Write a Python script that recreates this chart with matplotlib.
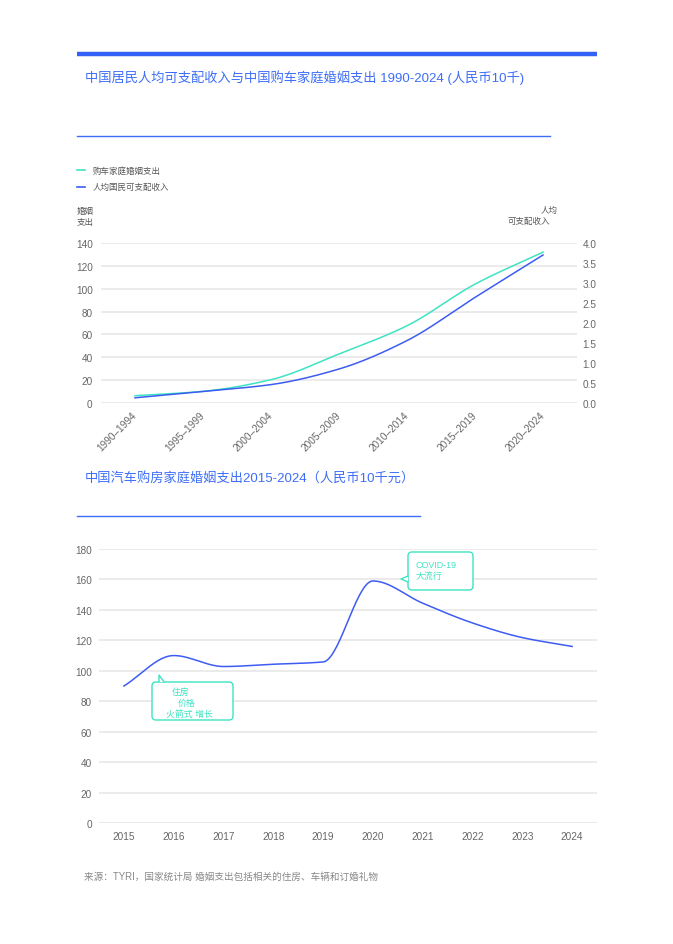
import numpy as np
import matplotlib
matplotlib.use("Agg")
import matplotlib.pyplot as plt
from matplotlib.patches import FancyBboxPatch, Polygon
from matplotlib.lines import Line2D
from matplotlib.transforms import Affine2D

plt.rcParams['font.family'] = ['Liberation Sans', 'Noto Sans CJK SC']

# ---------------------- DATA ----------------------
periods = ['1990–1994', '1995–1999', '2000–2004', '2005–2009',
           '2010–2014', '2015–2019', '2020–2024']
marriage_spend = [6.4, 10.2, 20.4, 42.9, 67.6, 104, 132]      # left axis
income = [0.13, 0.29, 0.46, 0.85, 1.56, 2.64, 3.7]            # right axis

years = [2015, 2016, 2017, 2018, 2019, 2020, 2021, 2022, 2023, 2024]
car_house_spend = [90, 110, 102.8, 104.3, 105.8, 159, 144.4, 131.4, 121.8, 116]

# ---------------------- STYLE ----------------------
W, H = 673, 945
TEAL = '#3ee3c3'
BLUE = '#3d5cf2'
TITLE_BLUE = '#3d6ef7'
GRID = '#e8e8e8'
TICK = '#666666'


def smooth(y, n=300):
    """monotone cubic curve through the points (x = 0..n-1)"""
    y = np.asarray(y, float)
    d = np.diff(y)
    m = np.zeros_like(y)
    m[0], m[-1] = d[0], d[-1]
    for i in range(1, len(y) - 1):
        if d[i - 1] * d[i] > 0:
            m[i] = 2 / (1 / d[i - 1] + 1 / d[i])
    xs = np.linspace(0, len(y) - 1, n)
    i = np.clip(np.floor(xs).astype(int), 0, len(y) - 2)
    t = xs - i
    h00 = 2 * t**3 - 3 * t**2 + 1
    h10 = t**3 - 2 * t**2 + t
    h01 = -2 * t**3 + 3 * t**2
    h11 = t**3 - t**2
    return xs, h00 * y[i] + h10 * m[i] + h01 * y[i + 1] + h11 * m[i + 1]


fig = plt.figure(figsize=(W / 100, H / 100), dpi=100)
px = Affine2D().scale(1 / W, -1 / H).translate(0, 1) + fig.transFigure

# ---------------------- HEADER ----------------------
fig.add_artist(Line2D([77, 597], [55, 55], transform=px, color='#3461f5', lw=3.2,
                      solid_capstyle='butt'))
fig.text(85, 78, '中国居民人均可支配收入与中国购车家庭婚姻支出 1990-2024 (人民币10千)',
         transform=px, color=TITLE_BLUE, fontsize=9.55, va='center')
fig.add_artist(Line2D([77, 550], [137, 137], transform=px, color=TITLE_BLUE, lw=1))

# legend
fig.add_artist(Line2D([77, 85], [171, 171], transform=px, color=TEAL, lw=1.2))
fig.text(93, 171, '购车家庭婚姻支出', transform=px, color='#555555', fontsize=6.1, va='center')
fig.add_artist(Line2D([77, 85], [188, 188], transform=px, color=BLUE, lw=1.2))
fig.text(93, 188, '人均国民可支配收入', transform=px, color='#555555', fontsize=6.1, va='center')

fig.text(77, 212, '婚姻', transform=px, color='#555555', fontsize=6.1, va='center')
fig.text(77, 223, '支出', transform=px, color='#555555', fontsize=6.1, va='center')
fig.text(558, 211, '人均', transform=px, color='#555555', fontsize=6.1, va='center', ha='right')
fig.text(550, 222, '可支配收入', transform=px, color='#555555', fontsize=6.1, va='center', ha='right')

# ---------------------- CHART 1 ----------------------
ax1 = fig.add_axes([101 / W, 1 - 404 / H, 476 / W, 160 / H])
ax1.set_xlim(-0.5, 6.5)
ax1.set_ylim(0, 140)
ax1.set_yticks(range(0, 141, 20))
ax1.set_xticks(range(len(periods)))
ax1.set_xticklabels(periods, rotation=45, ha='right', va='center', rotation_mode='anchor')
ax1.grid(axis='y', color=GRID, lw=1.2)
ax1.set_axisbelow(True)
ax1.tick_params(length=0, labelsize=7.2, colors=TICK)
ax1.tick_params(axis='y', pad=6)
ax1.tick_params(axis='x', pad=7)
for s in ax1.spines.values():
    s.set_visible(False)

ax1r = ax1.twinx()
ax1r.set_ylim(0, 4)
ax1r.set_yticks(np.arange(0, 4.01, 0.5))
ax1r.set_yticklabels([f'{v:.1f}' for v in np.arange(0, 4.01, 0.5)])
ax1r.tick_params(length=0, labelsize=7.2, colors=TICK, pad=4)
for s in ax1r.spines.values():
    s.set_visible(False)

xs, ys = smooth(marriage_spend)
ax1.plot(xs, ys, color=TEAL, lw=1.1)
xs, ys = smooth(income)
ax1r.plot(xs, ys, color=BLUE, lw=1.1)

# ---------------------- CHART 2 ----------------------
fig.text(85, 479, '中国汽车购房家庭婚姻支出2015-2024（人民币10千元）',
         transform=px, color=TITLE_BLUE, fontsize=9.5, va='center')
fig.add_artist(Line2D([77, 420], [517, 517], transform=px, color=TITLE_BLUE, lw=1))

ax2 = fig.add_axes([99 / W, 1 - 824 / H, 498 / W, 274 / H])
ax2.set_xlim(-0.5, 9.5)
ax2.set_ylim(0, 180)
ax2.set_yticks(range(0, 181, 20))
ax2.set_xticks(range(len(years)))
ax2.set_xticklabels([str(y) for y in years])
ax2.grid(axis='y', color=GRID, lw=1.2)
ax2.set_axisbelow(True)
ax2.tick_params(length=0, labelsize=7.2, colors=TICK)
ax2.tick_params(axis='y', pad=5)
ax2.tick_params(axis='x', pad=6)
for s in ax2.spines.values():
    s.set_visible(False)

xs, ys = smooth(car_house_spend)
ax2.plot(xs, ys, color=BLUE, lw=1.1)


def bubble(x0, y0, x1, y1, tail):
    fig.add_artist(FancyBboxPatch((x0, y0), x1 - x0, y1 - y0, transform=px,
                                  boxstyle='round,pad=0,rounding_size=4',
                                  fc='white', ec=TEAL, lw=1))
    fig.add_artist(Polygon(tail, closed=True, transform=px, fc='white', ec='none'))
    fig.add_artist(Line2D([p[0] for p in tail], [p[1] for p in tail],
                          transform=px, color=TEAL, lw=1))


bubble(152, 683, 233, 721, [(159, 683), (159, 676), (164, 683)])
fig.text(172, 692, '住房', transform=px, color=TEAL, fontsize=6.4, va='center')
fig.text(178, 703, '价格', transform=px, color=TEAL, fontsize=6.4, va='center')
fig.text(166, 714, '火箭式 增长', transform=px, color=TEAL, fontsize=6.4, va='center')

bubble(408, 553, 473, 591, [(408, 577), (401, 580), (408, 583)])
fig.text(416, 566, 'COVID-19', transform=px, color=TEAL, fontsize=6.4, va='center')
fig.text(416, 577, '大流行', transform=px, color=TEAL, fontsize=6.4, va='center')

# ---------------------- FOOTER ----------------------
fig.text(84, 877, '来源：TYRI，国家统计局 婚姻支出包括相关的住房、车辆和订婚礼物',
         transform=px, color='#888888', fontsize=6.9, va='center')

fig.savefig('out.png', dpi=100, facecolor='white')
